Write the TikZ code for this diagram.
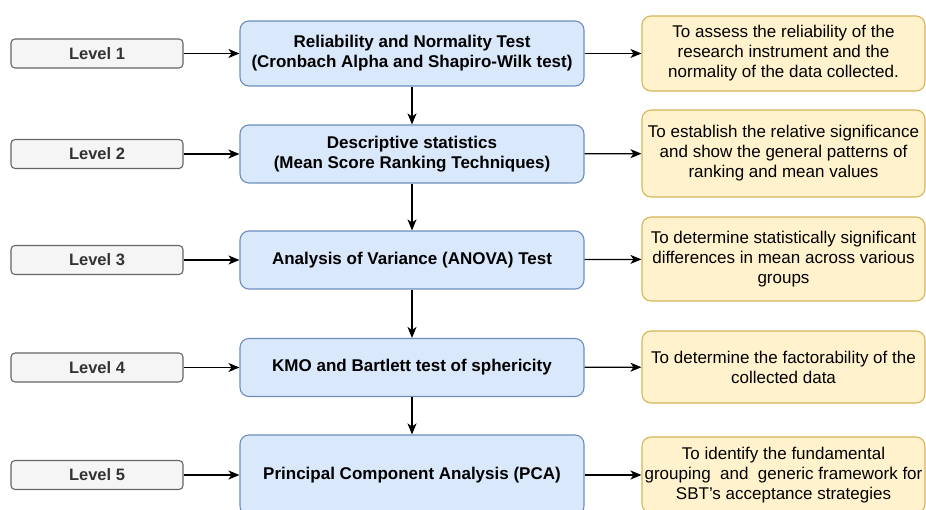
\documentclass[tikz,border=0pt]{standalone}
\usepackage{fontspec}
\setmainfont{Liberation Sans}
\usetikzlibrary{arrows.meta}
\definecolor{lvlfill}{HTML}{F5F5F5}
\definecolor{lvldraw}{HTML}{666666}
\definecolor{lvltext}{HTML}{333333}
\definecolor{stepfill}{HTML}{DAE8FC}
\definecolor{stepdraw}{HTML}{6C8EBF}
\definecolor{aimfill}{HTML}{FFF2CC}
\definecolor{aimdraw}{HTML}{D6B656}
\tikzset{
  lvlbox/.style = {draw=lvldraw, fill=lvlfill, text=lvltext, rounded corners=4pt, line width=1.1pt,
    minimum width=172pt, minimum height=29pt, font=\fontsize{16.5}{19}\selectfont\bfseries},
  stepbox/.style = {draw=stepdraw, fill=stepfill, rounded corners=9pt, line width=1.1pt,
    minimum width=344pt, align=center, font=\fontsize{17}{20}\selectfont\bfseries},
  aimbox/.style = {draw=aimdraw, fill=aimfill, rounded corners=9pt, line width=1.1pt,
    minimum width=283pt, align=center, inner xsep=0pt, font=\fontsize{17}{20}\selectfont},
  link/.style = {line width=1.2pt, -{Stealth[length=11pt, width=9pt, inset=3pt]}}
}
\begin{document}
\begin{tikzpicture}[x=1pt, y=-1pt]
\useasboundingbox (0,0) rectangle (926,510);
\clip (0,0) rectangle (926,510);
% level labels
\node[lvlbox] (L1) at (97,53.5) {Level 1};
\node[lvlbox] (L2) at (97,154) {Level 2};
\node[lvlbox] (L3) at (97,260) {Level 3};
\node[lvlbox] (L4) at (97,367.5) {Level 4};
\node[lvlbox] (L5) at (97,475) {Level 5};

% analysis steps
\node[stepbox, minimum height=65pt] (S1) at (412,53.5) {Reliability and Normality Test\\(Cronbach Alpha and Shapiro-Wilk test)};
\node[stepbox, minimum height=58pt] (S2) at (412,154) {Descriptive statistics\\(Mean Score Ranking Techniques)};
\node[stepbox, minimum height=58pt] (S3) at (412,260) {Analysis of Variance (ANOVA) Test};
\node[stepbox, minimum height=58pt] (S4) at (412,367.5) {KMO and Bartlett test of sphericity};
\node[stepbox, minimum height=80pt] (S5) at (412,475) {Principal Component Analysis (PCA)};

% aims
\node[aimbox, minimum height=75pt] (A1) at (783.5,53.5) {To assess the reliability of the\\research instrument and the\\normality of the data collected.};
\node[aimbox, minimum height=87pt] (A2) at (783.5,153.5) {To establish the relative significance\\and show the general patterns of\\ranking and mean values};
\node[aimbox, minimum height=84pt] (A3) at (783.5,259) {To determine statistically significant\\differences in mean across various\\groups};
\node[aimbox, minimum height=72pt] (A4) at (783.5,367) {To determine the factorability of the\\collected data};
\node[aimbox, minimum height=76pt] (A5) at (783.5,475) {To identify the fundamental\\grouping\ \ and\ \ generic framework for\\SBT's acceptance strategies};

\foreach \i in {1,...,5} {
  \draw[link] (L\i) -- (S\i);
  \draw[link] (S\i) -- (A\i);
}
\draw[link] (S1) -- (S2);
\draw[link] (S2) -- (S3);
\draw[link] (S3) -- (S4);
\draw[link] (S4) -- (S5);
\end{tikzpicture}
\end{document}
